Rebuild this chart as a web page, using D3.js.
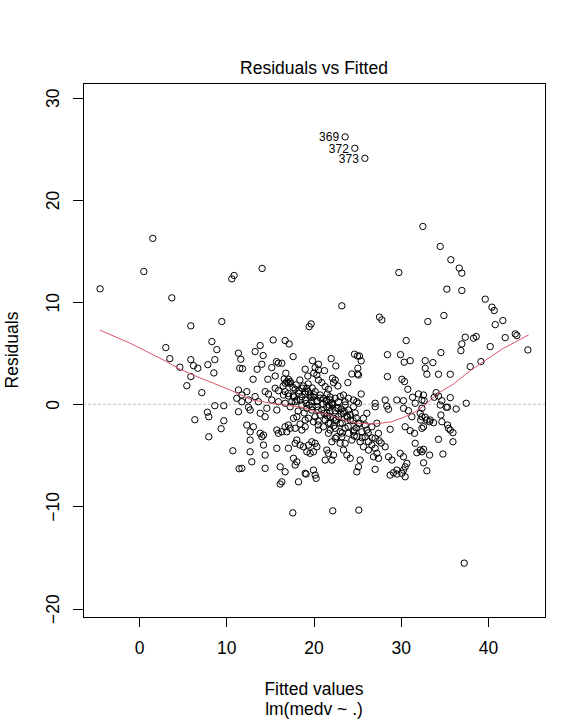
<!DOCTYPE html>
<html>
<head>
<meta charset="utf-8">
<script src="https://cdn.jsdelivr.net/npm/d3@7"></script>
<style>
  body { margin: 0; background: #fff; }
  text { font-family: "Liberation Sans", Arial, sans-serif; fill: #000; }
</style>
</head>
<body>
<svg id="chart" width="588" height="722"></svg>
<script>
// values (fitted, residual)
const fitted = [
  1.57, 0.54, -4.47, 3.75, 10.89, 10.63, 9.48, 5.93, 8.34, 8.91, 3.06, 3.52, 5.93, 8.68, 7.88, 6.23, 6.73, 4.67, 8.57, 5.93, 5.47, 7.19,
  8.68, 9.71, 7.83, 7.99, 6.39, 9.71, 9.4, 7.99, 10.75, 11.47,
  19.72, 19.5, 15.37, 16.74, 17.2, 13.88, 13.3, 11.39, 14.22, 17.66, 11.66, 15.75, 15.97, 16.36, 19.88, 20.56, 14.07, 11.54, 11.85, 13.53,
  15.21, 19.04, 20.18, 20.56, 21.25, 16.82, 20.03, 20.38, 15.6, 19.34, 14.76, 13.07, 17.12, 16.93, 17.32, 16.74, 18.43, 20.56, 20.94, 18.84,
  19.23, 21.33, 21.71, 15.6, 15.97, 17.89, 11.39, 12.35, 11.78, 14.45, 14.83, 16.74, 16.55, 17.12, 18.27, 18.66, 19.04, 19.61, 20.18, 20.76,
  21.14, 20.38, 21.52, 19.8, 18.08, 17.51, 15.97, 15.21, 13.3, 13.68, 12.54, 11.78, 11.2, 19.38, 19.84, 21.56, 19.95, 19.04, 21.9, 17.66,
  11.39, 12.54, 12.73, 13.88, 14.45, 14.64, 15.79, 16.74, 17.32, 17.89, 18.66, 19.23, 19.8, 20.38, 20.95, 21.52, 20.76, 20.18, 21.33, 21.71,
  21.14, 20.56, 19.99, 19.42, 18.08, 17.7, 17.12, 16.74, 17.32, 16.93, 16.36, 15.97, 15.79, 17.89, 18.66, 19.04, 18.08, 17.89, 18.46, 18.84,
  19.23, 19.61, 19.99, 20.18, 20.38, 19.8, 19.42, 17.12, 12.35, 13.1, 12.73, 13.88, 14.26, 14.07, 12.73, 14.26, 15.79, 12.73, 14.45, 17.7,
  18.08, 17.89, 21.33, 12.92, 11.78, 14.45, 16.17, 16.74, 19.99, 20.18, 19.04, 16.36, 18.27, 18.23, 18.92, 19.5, 20.53, 21.79, 19.04, 18.46,
  30.62, 28.47, 29.97, 30.39, 31.08, 24.69, 25.03, 25.26, 25.46, 22.02, 22.55, 25.08, 24.39, 25.03, 25.15, 28.47, 30.13, 30.43, 22.17, 22.48,
  22.29, 23.93, 22.79, 30.81, 32.03, 31.34, 25.46, 28.21, 29.55, 30.31, 27.06, 21.9, 22.48, 23.05, 23.43, 24.0, 24.58, 24.96, 22.86, 23.62, 22.1,
  27.06, 28.4, 28.59, 30.31, 30.88, 31.65, 32.42, 31.27, 32.28, 30.5, 31.08, 31.57, 28.78, 27.44, 27.06, 27.52, 31.65, 32.22, 31.84, 28.21,
  29.93, 30.31, 28.59, 28.98, 30.7, 30.5, 30.31, 30.5, 29.55, 28.78, 27.06, 25.15, 24.96, 25.34, 22.1, 22.29, 21.71, 21.52, 23.43, 23.82,
  24.2, 23.05, 22.48, 22.1, 23.24,
  25.92, 26.3, 26.68, 27.06, 27.26, 27.44, 26.87, 26.3, 25.72, 25.34, 24.96, 25.54, 26.11, 26.68, 27.26, 24.58, 24.0, 24.39, 23.62, 23.05,
  22.48, 21.9, 22.29, 22.86, 23.43, 24.0, 24.58, 25.15, 23.62, 22.67, 21.9, 21.52, 23.05, 24.2, 25.15, 25.72, 26.11, 21.71, 22.67,
  22.13, 23.17, 24.77, 23.85, 24.89, 25.57, 26.26, 26.72, 27.75, 25.92, 22.29, 23.62, 21.56,
  32.53, 34.52, 35.74, 36.7, 37.0, 29.78, 35.28, 37.0, 23.24, 39.68, 40.45, 40.71, 34.94, 33.1, 41.7, 40.83, 27.56, 27.83,
  43.12, 43.31, 41.97, 37.39, 38.34, 38.65, 37.0, 36.89, 40.25, 44.57, 34.6, 32.8, 33.68, 32.8, 39.19, 37.96, 32.99, 34.32, 35.67, 34.06,
  34.32, 33.83, 32.6, 32.42, 32.68, 35.67, 34.71, 34.52, 35.21, 35.36, 36.35, 37.5, 32.22, 32.42, 32.8, 32.99, 33.37, 33.76, 33.3, 32.42,
  32.61, 34.6, 34.71, 35.36, 35.47, 35.67, 35.98, 34.32, 35.98, 32.61, 32.42, 33.3, 34.83, 32.61, 32.99,
  16.17, 19.15, 20.3, 29.16, 30.12, 29.55, 17.62, 22.2, 25.19, 37.27, 14.1,
  // dense diagonal band in the middle
  17.32, 17.66, 17.09, 18.0, 18.34, 17.77, 18.69, 19.03, 18.46, 19.38, 19.72, 19.15, 20.07, 20.41, 19.84, 20.76, 21.1, 20.53,
  21.44, 21.78, 21.21, 22.13, 22.47, 21.9, 22.82, 23.16, 22.59, 23.51, 23.85, 23.28, 24.2, 24.54, 23.97, 24.89, 25.23, 24.66,
  16.63, 17.09, 16.51, 20.53, 21.9, 23.28, 24.66, 22.59
];
const resid = [
  16.24, 13.0, 11.3, 10.42, 12.61, 12.28, 8.1, 7.68, 6.14, 5.35, 5.55, 4.47, 4.37, 4.37, 3.88, 3.78, 3.53, 3.63, 3.07, 2.71, 1.82, 1.14,
  -0.14, -0.14, -0.78, -1.22, -1.51, -1.61, -2.39, -3.18, -4.55, -6.31,
  7.87, 7.6, 6.3, 6.24, 5.91, 5.75, 5.16, 5.0, 4.77, 4.67, 4.41, 4.18, 4.02, 4.02, 4.27, 3.92, 3.92, 3.53, 3.49, 3.43,
  3.59, 3.43, 3.59, 3.36, 3.29, 3.04, 3.04, 2.87, 2.77, 2.77, 2.45, 2.45, 2.45, 2.19, 2.06, 2.06, 2.38, 2.38, 2.12, 1.79,
  1.57, 1.73, 1.47, 1.57, 1.33, 1.47, 1.4, 1.24, 0.91, 1.24, 1.01, 1.24, 0.91, 0.81, 1.08, 0.75, 0.42, 0.91, 1.24, 0.91,
  0.59, 0.25, 0.42, 0.25, 0.42, 0.25, 0.25, 0.42, 0.75, 0.25, 0.42, 0.25, 0.59, 1.99, 1.6, 1.01, 0.72, 1.21, 0.72, 0.81,
  -0.73, -0.29, -0.56, -0.88, -1.22, -0.39, -0.56, 0.1, -0.24, 0.25, -0.07, -0.39, -0.56, -0.24, -0.56, -0.88, -1.05, -1.22, -1.54, -1.86,
  -2.2, -2.52, -1.71, -1.37, -1.22, -1.37, -2.03, -2.2, -2.35, -2.69, -2.69, -2.84, -2.52, -2.35, -2.52, -2.2, -3.5, -3.82, -3.99, -4.16,
  -4.65, -4.8, -4.65, -3.82, -4.16, -3.67, -3.99, -4.31, -2.03, -2.2, -2.69, -2.84, -3.01, -3.18, -3.5, -3.99, -4.31, -4.65, -4.97, -5.29,
  -5.63, -5.95, -5.46, -5.63, -6.27, -6.27, -6.12, -6.61, -6.44, -6.93, -6.76, -7.59, -7.59, -0.66, -0.85, -0.07, -1.64, -0.07, -1.54, -1.93,
  6.24, 4.86, 4.86, 4.12, 4.27, 4.9, 4.73, 4.73, 4.25, 4.47, 3.75, 3.53, 2.97, 2.97, 2.87, 2.71, 2.45, 2.22, 2.55, 2.38,
  2.12, 2.12, 1.79, 1.47, 1.01, 0.69, 1.01, 0.42, 0.42, 0.35, 0.1, 0.42, 0.59, 0.75, 0.91, 0.59, 0.42, 0.25, 0.25, 0.25, 0.1,
  -0.24, -0.17, -0.49, -0.39, -0.63, 0.1, -0.39, -1.22, -1.54, -2.2, -2.59, -2.84, -2.45, -2.84, -3.33, -3.57, -3.82, -4.48, -4.74, -4.16,
  -4.8, -5.14, -5.14, -5.46, -5.78, -6.12, -6.44, -7.1, -6.44, -6.93, -6.37, -6.12, -6.61, -5.46, -5.46, -4.97, -4.8, -4.48, -4.48, -4.97,
  -5.29, -3.82, -3.33, -3.67, -3.18,
  -3.18, -3.67, -3.99, -4.31, -4.8, -5.29, -5.14, -4.48, -4.16, -3.67, -3.18, -2.69, -2.52, -2.2, -1.86, -2.69, -2.84, -3.5, -3.82, -2.69,
  -2.35, -1.86, -1.37, -1.22, -0.88, -0.56, -0.24, 0.1, -0.07, -0.39, -0.73, -0.24, -1.86, -1.54, -1.86, -1.37, -0.88, -2.84, -3.18,
  0.13, -0.46, -0.85, -1.14, -2.32, -3.29, -2.81, -3.29, -3.79, -2.03, -2.13, -2.32, -1.14,
  17.41, 15.45, 14.15, 13.33, 12.84, 12.9, 11.27, 11.14, 9.64, 10.29, 9.51, 9.18, 8.69, 8.1, 8.2, 7.8, 8.53, 8.26,
  6.89, 6.73, 6.53, 6.57, 6.47, 6.63, 5.91, 5.25, 5.65, 5.32, 5.06, 4.27, 4.08, 3.53, 4.18, 3.69, 2.94, 2.94, 2.94, 1.14,
  0.81, 0.69, 0.91, 0.42, 0.35, 0.65, 0.35, -0.07, -0.29, -0.29, -0.46, 0.1, -0.88, -1.22, -1.27, -1.54, -1.54, -1.8, -1.71, -2.35,
  -2.2, -1.05, -1.71, -2.03, -2.35, -2.52, -2.78, -3.43, -3.67, -4.41, -4.65, -4.97, -4.87, -5.73, -6.51,
  -7.81, -6.83, -7.25, -6.7, -6.76, -6.83, -10.63, -10.43, -10.36, -15.55, 13.3,
  // dense diagonal band in the middle
  2.22, 1.64, 1.05, 1.9, 1.31, 0.72, 1.58, 0.99, 0.4, 1.25, 0.67, 0.08, 0.93, 0.34, -0.24, 0.61, 0.02, -0.57,
  0.28, -0.3, -0.89, -0.04, -0.63, -1.21, -0.36, -0.95, -1.54, -0.69, -1.27, -1.86, -1.01, -1.6, -2.18, -1.33, -1.92, -2.51,
  2.48, 2.09, 1.79, -2.03, -2.52, -2.81, -3.11, -1.54
];

// the three largest residuals, labelled by row number
const idNames = ["369", "372", "373"];
const idFitted = [23.62, 24.73, 25.88];
const idResid = [26.18, 25.06, 24.08];

// red smoother
const smoothX = [-4.47, -1.03, 0.88, 2.79, 4.7, 6.62, 8.52, 10.44, 12.92, 14.83, 16.74, 18.66, 20.56, 21.9,
  23.62, 25.11, 27.06, 28.98, 30.5, 31.65, 32.8, 34.14, 36.04, 37.96, 39.87, 41.78, 44.65];
const smoothY = [7.25, 5.98, 5.16, 4.34, 3.43, 2.71, 2.06, 1.4, 0.42, 0.16, -0.07, -0.29, -0.82, -1.05,
  -1.61, -1.86, -1.93, -1.71, -1.22, -0.73, -0.07, 1.01, 1.99, 3.29, 4.41, 5.49, 6.79];

const xTicks = [0, 10, 20, 30, 40];
const yTicks = [-20, -10, 0, 10, 20, 30];

const W = 588, H = 722;
const L = 20.4; // one margin line in px
const margin = { top: 83, right: 43, bottom: 105, left: 83 };
const fs = 17.5;

const svg = d3.select("#chart");
svg.append("rect").attr("width", W).attr("height", H).attr("fill", "#fff");

const allX = fitted.concat(idFitted), allY = resid.concat(idResid);

// like R: 4% on each side, y first widened by 8% for the labels
function pad(ext, f) { const d = (ext[1] - ext[0]) * f; return [ext[0] - d, ext[1] + d]; }
const x = d3.scaleLinear()
  .domain(pad(d3.extent(allX), 0.04))
  .range([margin.left, W - margin.right]);
const y = d3.scaleLinear()
  .domain(pad(pad(d3.extent(allY), 0.08), 0.04))
  .range([H - margin.bottom, margin.top]);

// zero line
svg.append("line")
  .attr("x1", margin.left).attr("x2", W - margin.right)
  .attr("y1", y(0)).attr("y2", y(0))
  .attr("stroke", "#bebebe").attr("stroke-dasharray", "3,2");

// points
const pts = allX.map((v, i) => [v, allY[i]]);
svg.append("g").selectAll("circle")
  .data(pts)
  .enter()
  .append("circle")
  .attr("cx", d => x(d[0]))
  .attr("cy", d => y(d[1]))
  .attr("r", 3.2)
  .attr("fill", "none")
  .attr("stroke", "#000")
  .attr("stroke-width", 1);

// smoother
const smooth = smoothX.map((v, i) => [v, smoothY[i]]);
svg.append("path")
  .datum(smooth)
  .attr("d", d3.line().x(d => x(d[0])).y(d => y(d[1])))
  .attr("fill", "none")
  .attr("stroke", "#DF536B")
  .attr("stroke-width", 1);

// labels left of the points
svg.append("g").selectAll("text")
  .data(idNames)
  .enter()
  .append("text")
  .attr("x", (d, i) => x(idFitted[i]) - 6)
  .attr("y", (d, i) => y(idResid[i]))
  .attr("dy", "0.36em")
  .attr("text-anchor", "end")
  .style("font-size", "12px")
  .text(d => d);

// box
svg.append("rect")
  .attr("x", margin.left).attr("y", margin.top)
  .attr("width", W - margin.left - margin.right)
  .attr("height", H - margin.top - margin.bottom)
  .attr("fill", "none").attr("stroke", "#000").attr("stroke-width", 1)
  .attr("shape-rendering", "crispEdges");

// axes
const gx = svg.append("g")
  .attr("transform", `translate(0,${H - margin.bottom})`)
  .call(d3.axisBottom(x).tickValues(xTicks).tickSize(10).tickSizeOuter(0));
gx.select(".domain").remove();
gx.selectAll("line").attr("shape-rendering", "crispEdges");
gx.selectAll("text")
  .attr("y", 1.8 * L).attr("dy", null)
  .attr("font-family", null)
  .style("font-size", fs + "px");

const gy = svg.append("g")
  .attr("transform", `translate(${margin.left},0)`)
  .call(d3.axisLeft(y).tickValues(yTicks).tickSize(10).tickSizeOuter(0));
gy.select(".domain").remove();
gy.selectAll("line").attr("shape-rendering", "crispEdges");
gy.selectAll("text")
  .attr("x", null).attr("dy", null)
  .attr("text-anchor", "middle")
  .attr("transform", `translate(${-1.2 * L},0) rotate(-90)`)
  .style("font-size", fs + "px");

// titles
const cx = (margin.left + W - margin.right) / 2;
svg.append("text")
  .attr("x", cx).attr("y", margin.top - 0.45 * L)
  .attr("text-anchor", "middle")
  .style("font-size", fs + "px")
  .text("Residuals vs Fitted");

svg.append("text")
  .attr("x", cx).attr("y", H - margin.bottom + 3.8 * L)
  .attr("text-anchor", "middle")
  .style("font-size", fs + "px")
  .text("Fitted values");

svg.append("text")
  .attr("x", cx).attr("y", H - margin.bottom + 4.8 * L)
  .attr("text-anchor", "middle")
  .style("font-size", fs + "px")
  .text("lm(medv ~ .)");

svg.append("text")
  .attr("transform", `translate(${margin.left - 3.2 * L},${(margin.top + H - margin.bottom) / 2}) rotate(-90)`)
  .attr("text-anchor", "middle")
  .style("font-size", fs + "px")
  .text("Residuals");
</script>
</body>
</html>
